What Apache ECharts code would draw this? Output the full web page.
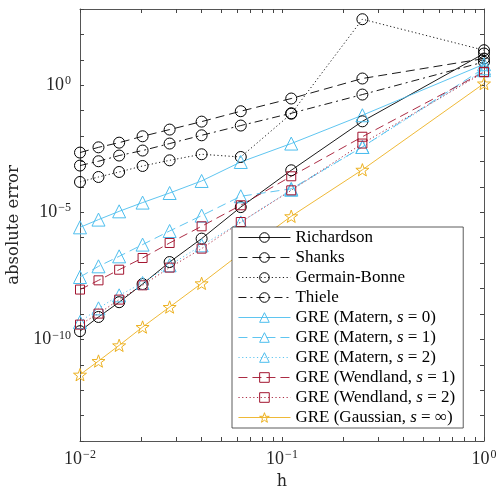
<!DOCTYPE html>
<html>
<head>
<meta charset="utf-8">
<script src="https://cdn.jsdelivr.net/npm/echarts@6/dist/echarts.min.js"></script>
<style>
    html, body { margin: 0; padding: 0; background: #fff; }
    #main { width: 496px; height: 489px; }
</style>
</head>
<body>
<div id="main"></div>
<script>
    // h = 1/n^2, n = 10..1
    let hValues = [0.01, 1 / 81, 1 / 64, 1 / 49, 1 / 36, 1 / 25, 1 / 16, 1 / 9, 1 / 4, 1];

    let richardson = [2.1e-10, 7.6e-10, 2.9e-9, 1.5e-8, 1.1e-7, 9.2e-7, 1.6e-5, 4.5e-4, 3.8e-2, 17.7];
    let shanks = [2.24e-3, 3.6e-3, 5.5e-3, 9.8e-3, 1.8e-2, 3.7e-2, 9.5e-2, 0.30, 1.84, 11.2];
    let germainBonne = [1.56e-4, 2.45e-4, 3.86e-4, 6.65e-4, 1.11e-3, 1.92e-3, 1.50e-3, 7.55e-2, 396, 23.9];
    let thiele = [6.9e-4, 1.02e-3, 1.71e-3, 2.69e-3, 5.07e-3, 1.07e-2, 2.59e-2, 7.9e-2, 0.43, 8.27];
    let matern0 = [2.56e-6, 5.16e-6, 1.09e-5, 2.41e-5, 5.75e-5, 1.71e-4, 9.55e-4, 5.07e-3, 6.59e-2, 6.71];
    let matern1 = [2.84e-8, 7.48e-8, 1.85e-7, 5.35e-7, 1.84e-6, 7.41e-6, 4.27e-5, 8.4e-5, 3.72e-3, 4.67];
    let matern2 = [4.8e-10, 1.66e-9, 5.4e-9, 1.65e-8, 8.2e-8, 5.0e-7, 4.0e-6, 7.7e-5, 3.72e-3, 3.9];
    let wendland1 = [9.1e-9, 2.1e-8, 5.5e-8, 1.59e-7, 6.2e-7, 2.81e-6, 1.89e-5, 2.61e-4, 9.4e-3, 3.34];
    let wendland2 = [3.8e-10, 1.03e-9, 3.66e-9, 1.34e-8, 6.65e-8, 3.72e-7, 4.15e-6, 7.3e-5, 5.07e-3, 3.25];
    let gaussian = [4.07e-12, 1.4e-11, 5.8e-11, 3.05e-10, 1.87e-9, 1.6e-8, 2.43e-7, 6.97e-6, 4.71e-4, 1.17];

    let xTicks = [0.01, 0.02, 0.03, 0.04, 0.05, 0.06, 0.07, 0.08, 0.09,
        0.1, 0.2, 0.3, 0.4, 0.5, 0.6, 0.7, 0.8, 0.9, 1];
    let xLabels = [0.01, 0.1, 1];
    let yTicks = [1e-14, 1e-13, 1e-12, 1e-11, 1e-10, 1e-9, 1e-8, 1e-7, 1e-6, 1e-5,
        1e-4, 1e-3, 1e-2, 1e-1, 1, 10, 100, 1000];
    let yLabels = [1e-10, 1e-5, 1];

    const FONT = '"Liberation Serif", serif';
    const WIDE = '"DejaVu Serif", serif';
    const STAR = 'path://M0,-10L2.35,-3.24L9.51,-3.09L3.8,1.24L5.88,8.09L0,4.2L-5.88,8.09L-3.8,1.24L-9.51,-3.09L-2.35,-3.24Z';
    const DASH = [9, 5];
    const DOT = [1.2, 2.5];
    const DASHDOT = [8, 4, 2, 4];

    function pairs(ys) {
        return hValues.map(function (h, i) { return [h, ys[i]]; });
    }

    function mkSeries(name, ys, color, type, symbol, size) {
        return {
            name: name,
            type: 'line',
            data: pairs(ys),
            symbol: symbol,
            symbolSize: size,
            symbolKeepAspect: true,
            showAllSymbol: true,
            lineStyle: { color: color, width: 0.9, type: type },
            itemStyle: { color: 'rgba(0,0,0,0)', borderColor: color, borderWidth: 1 },
            emphasis: { disabled: true },
            animation: false
        };
    }

    function expLabel(v) {
        let e = Math.round(Math.log10(v));
        return '{b|10}{e|' + (e < 0 ? '\u2212' + (-e) : e) + '}';
    }

    let labelRich = {
        b: { fontFamily: FONT, fontSize: 18, color: '#262626', lineHeight: 20 },
        e: { fontFamily: FONT, fontSize: 12, color: '#262626', verticalAlign: 'top', lineHeight: 12, padding: [0, 0, 0, 1] }
    };

    let axisLineStyle = { show: true, lineStyle: { color: '#555', width: 1 } };
    let tickStyle = { color: '#444', width: 1 };

    let myChart = echarts.init(document.getElementById('main'));
    let option = {
        backgroundColor: '#fff',
        animation: false,
        grid: { left: 80, right: 12, top: 9, bottom: 48, outerBoundsMode: 'none' },
        xAxis: [{
            type: 'log',
            logBase: 10,
            min: 0.01,
            max: 1,
            name: 'h',
            nameLocation: 'middle',
            nameGap: 33,
            nameTextStyle: { fontFamily: WIDE, fontSize: 16, color: '#262626' },
            axisLine: axisLineStyle,
            axisTick: { show: true, inside: true, length: 4, customValues: xTicks, lineStyle: tickStyle },
            axisLabel: { customValues: xLabels, formatter: expLabel, rich: labelRich, margin: 8 },
            splitLine: { show: false }
        }, {
            type: 'log',
            logBase: 10,
            min: 0.01,
            max: 1,
            position: 'top',
            axisLine: axisLineStyle,
            axisTick: { show: true, inside: true, length: 4, customValues: xTicks, lineStyle: tickStyle },
            axisLabel: { show: false },
            splitLine: { show: false }
        }],
        yAxis: [{
            type: 'log',
            logBase: 10,
            min: 1e-14,
            max: 1e3,
            name: 'absolute error',
            nameLocation: 'middle',
            nameGap: 56,
            nameTextStyle: { fontFamily: WIDE, fontSize: 16.5, color: '#262626' },
            axisLine: axisLineStyle,
            axisTick: { show: true, inside: true, length: 4, customValues: yTicks, lineStyle: tickStyle },
            axisLabel: { customValues: yLabels, formatter: expLabel, rich: labelRich, margin: 9 },
            splitLine: { show: false }
        }, {
            type: 'log',
            logBase: 10,
            min: 1e-14,
            max: 1e3,
            position: 'right',
            axisLine: axisLineStyle,
            axisTick: { show: true, inside: true, length: 4, customValues: yTicks, lineStyle: tickStyle },
            axisLabel: { show: false },
            splitLine: { show: false }
        }],
        legend: {
            orient: 'vertical',
            left: 232,
            top: 227,
            padding: [2, 8, 2, 6],
            itemWidth: 52,
            itemHeight: 12,
            itemGap: 3,
            backgroundColor: '#fff',
            borderColor: '#333',
            borderWidth: 0.8,
            borderRadius: 0,
            lineStyle: { width: 0.9 },
            itemStyle: { color: 'rgba(0,0,0,0)', borderWidth: 1 },
            textStyle: {
                fontFamily: FONT, fontSize: 17, color: '#000', lineHeight: 16,
                rich: {
                    n: { fontFamily: FONT, fontSize: 17, color: '#000', lineHeight: 16 },
                    i: { fontFamily: FONT, fontSize: 17, color: '#000', fontStyle: 'italic', lineHeight: 16 }
                }
            },
            formatter: function (name) {
                let m = name.match(/^(.*)s = (.*)$/);
                if (!m) return '{n|' + name + '}';
                return '{n|' + m[1] + '}{i|s}{n| = ' + m[2] + '}';
            }
        },
        series: [
            mkSeries('Richardson', richardson, '#000', 'solid', 'circle', 11),
            mkSeries('Shanks', shanks, '#000', DASH, 'circle', 11),
            mkSeries('Germain-Bonne', germainBonne, '#000', DOT, 'circle', 11),
            mkSeries('Thiele', thiele, '#000', DASHDOT, 'circle', 11),
            mkSeries('GRE (Matern, s = 0)', matern0, '#4DBEEE', 'solid', 'triangle', 13),
            mkSeries('GRE (Matern, s = 1)', matern1, '#4DBEEE', DASH, 'triangle', 13),
            mkSeries('GRE (Matern, s = 2)', matern2, '#4DBEEE', DOT, 'triangle', 13),
            mkSeries('GRE (Wendland, s = 1)', wendland1, '#A2142F', DASH, 'rect', 9),
            mkSeries('GRE (Wendland, s = 2)', wendland2, '#A2142F', DOT, 'rect', 9),
            mkSeries('GRE (Gaussian, s = \u221e)', gaussian, '#EDB120', 'solid', STAR, 13)
        ]
    };
    myChart.setOption(option);
</script>
</body>
</html>
